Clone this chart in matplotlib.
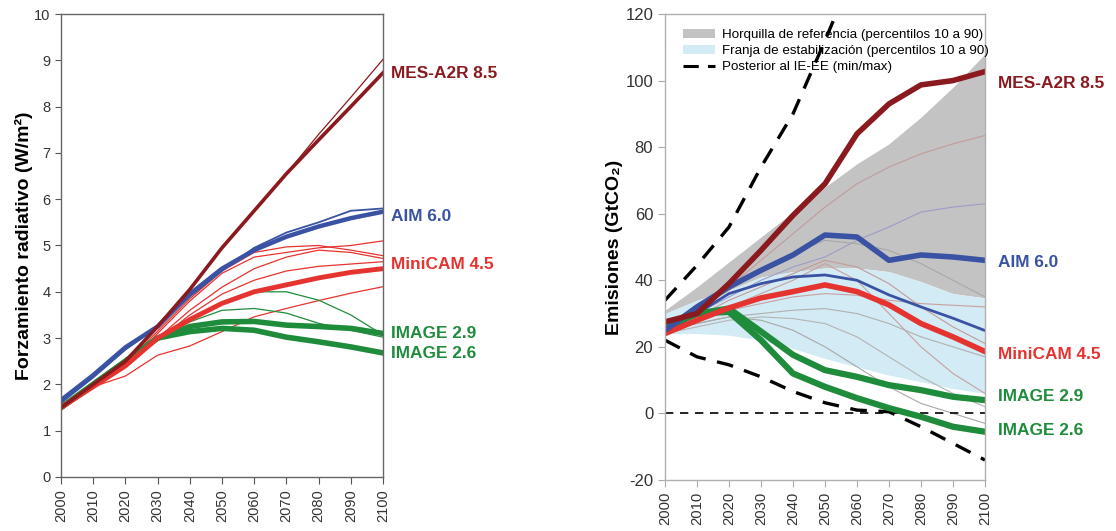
import matplotlib
matplotlib.use("Agg")
from matplotlib import pyplot as plt
from matplotlib.patches import Patch
from matplotlib.lines import Line2D

plt.rcParams['font.family'] = ['Liberation Sans', 'DejaVu Sans']
plt.rcParams['axes.unicode_minus'] = False

years = [2000, 2010, 2020, 2030, 2040, 2050, 2060, 2070, 2080, 2090, 2100]

# --- left: radiative forcing (W/m2)
f_mes = [1.5, 2.0, 2.5, 3.25, 4.05, 4.95, 5.75, 6.55, 7.28, 8.0, 8.73]
f_mes_thin = [1.5, 2.0, 2.5, 3.25, 4.05, 4.95, 5.75, 6.55, 7.4, 8.2, 9.02]
f_aim = [1.66, 2.2, 2.8, 3.25, 3.95, 4.5, 4.9, 5.19, 5.41, 5.59, 5.73]
f_aim_thin = [1.6, 2.15, 2.75, 3.25, 3.9, 4.45, 4.95, 5.28, 5.5, 5.75, 5.8]
f_minicam = [1.5, 1.95, 2.4, 3.0, 3.4, 3.75, 4.0, 4.15, 4.3, 4.42, 4.5]
f_minicam_thin = [
    [1.5, 1.95, 2.4, 3.1, 3.8, 4.4, 4.75, 4.85, 4.95, 5.0, 5.1],
    [1.5, 1.95, 2.45, 3.15, 3.85, 4.45, 4.85, 4.97, 5.0, 4.9, 4.78],
    [1.5, 1.95, 2.4, 3.0, 3.6, 4.1, 4.5, 4.75, 4.9, 4.85, 4.72],
    [1.5, 1.95, 2.4, 2.95, 3.5, 3.95, 4.25, 4.45, 4.55, 4.6, 4.65],
    [1.5, 1.95, 2.18, 2.63, 2.83, 3.14, 3.46, 3.64, 3.81, 3.97, 4.11],
]
f_image29 = [1.5, 2.0, 2.5, 3.0, 3.25, 3.35, 3.36, 3.28, 3.25, 3.21, 3.1]
f_image26 = [1.5, 2.0, 2.5, 3.0, 3.14, 3.21, 3.17, 3.02, 2.92, 2.81, 2.68]
f_image_thin = [
    [1.5, 2.0, 2.5, 3.0, 3.4, 3.75, 4.0, 4.0, 3.82, 3.5, 3.07],
    [1.5, 2.0, 2.5, 3.0, 3.35, 3.6, 3.64, 3.54, 3.32, 3.17, 3.02],
]

# --- right: emissions (GtCO2)
ref_lo = [30, 34, 37, 41, 42.6, 43.7, 43.7, 42.6, 39.6, 36, 34.7]
ref_hi = [31, 38, 45.5, 53, 60.5, 68, 75, 81, 89, 98, 108]
stab_lo = [24, 24, 23.5, 22, 19.5, 16.5, 14, 11.5, 9.5, 7.5, 6]
stab_hi = [30, 34, 37, 41, 42.6, 43.7, 43.7, 42.6, 39.6, 36, 34.7]
post_max = [34, 44.5, 56, 74, 90, 112, 135, 160, 185, 210, 235]
post_min = [22, 17, 14.6, 11, 6.6, 3.2, 1, 0.5, -4, -9, -14]
e_mes = [27.5, 30, 39, 49, 59.5, 69, 84, 93, 98.7, 100, 102.7]
e_aim = [25, 32, 38, 43, 47.6, 53.6, 53, 46, 47.6, 47, 46]
e_aim_thin = [24, 30, 36, 39, 41, 41.6, 40, 35.6, 32, 28.6, 24.9]
e_minicam = [24, 28, 31.7, 34.7, 36.6, 38.6, 36.6, 32.6, 27, 23, 18.6]
e_image29 = [26, 30, 31.5, 24.6, 17.6, 13, 11, 8.5, 7, 5, 4]
e_image26 = [26, 30, 30.5, 22, 12, 8, 4.6, 1.6, -1, -4, -5.5]
e_thin = [
    [27, 31, 38, 46, 54, 62, 69, 74, 78, 81, 83.5],
    [26, 30, 35, 40, 44, 47, 52, 56, 60.5, 62, 63],
    [26, 31, 37, 43, 48, 52, 51, 49, 45, 40, 35],
    [25, 28, 31, 33, 35, 36, 35.5, 34, 33, 32.5, 32],
    [25, 29, 34, 38, 42, 46, 44, 39, 32, 26, 21],
    [25, 27, 29, 30, 31, 31.5, 30, 27, 23, 20, 17],
    [25, 28, 32, 36, 40, 45, 40, 30, 20, 12, 6],
    [25, 27, 29, 28, 25, 20, 14, 8, 3, 0, -3],
    [24, 26, 28, 29, 28.5, 27, 23, 17, 11, 6, 2],
]
e_thin_colors = ['#c49a9a', '#9c9cc8', '#a8a8a8', '#c8a0a0', '#c49a9a',
                 '#b0b0b0', '#c8a0a0', '#a8a8a8', '#b4b4b4']

labels = ['MES-A2R 8.5', 'AIM 6.0', 'MiniCAM 4.5', 'IMAGE 2.9', 'IMAGE 2.6']
label_y_left = [8.72, 5.62, 4.58, 3.1, 2.67]
label_y_right = [99.2, 45.2, 17.6, 5.0, -5.2]

c_mes = '#8b1a1f'
c_aim = '#3a52a3'
c_mini = '#e5332f'
c_img = '#1f8c3c'
label_colors = [c_mes, c_aim, c_mini, c_img, c_img]

fig = plt.figure(figsize=(11.16, 5.31), dpi=100)

# ---------------- left panel
ax1 = fig.add_axes([61/1116, 1-477/531, 322/1116, 463/531])
for v in f_minicam_thin:
    ax1.plot(years, v, color=c_mini, lw=0.9)
for v in f_image_thin:
    ax1.plot(years, v, color=c_img, lw=0.9)
ax1.plot(years, f_image26, color=c_img, lw=4)
ax1.plot(years, f_image29, color=c_img, lw=4)
ax1.plot(years, f_minicam, color=c_mini, lw=3.5)
ax1.plot(years, f_aim_thin, color=c_aim, lw=1.3)
ax1.plot(years, f_aim, color=c_aim, lw=3.2)
ax1.plot(years, f_mes_thin, color=c_mes, lw=0.9)
ax1.plot(years, f_mes, color=c_mes, lw=2.6)

ax1.set_xlim(2000, 2100)
ax1.set_ylim(0, 10)
ax1.set_xticks(years)
ax1.set_xticklabels([str(y) for y in years], rotation=90, fontsize=10.5, color='#333333')
ax1.set_yticks(range(0, 11))
ax1.tick_params(axis='y', labelsize=10.5, labelcolor='#333333', direction='out', length=4, color='#555555')
ax1.tick_params(axis='x', direction='out', length=5, color='#555555')
for s in ax1.spines.values():
    s.set_color('#666666')
    s.set_linewidth(1.0)
ax1.set_ylabel('Forzamiento radiativo (W/m²)', fontsize=14, fontweight='bold', labelpad=1)
for t, yv, c in zip(labels, label_y_left, label_colors):
    ax1.text(2102.5, yv, t, color=c, fontsize=12.4, fontweight='bold', va='center', ha='left', clip_on=False)

# ---------------- right panel
ax2 = fig.add_axes([665/1116, 1-480/531, 320/1116, 466/531])
ax2.fill_between(years, ref_lo, ref_hi, color='#c3c3c3', lw=0)
ax2.fill_between(years, stab_lo, stab_hi, color='#d3ebf4', lw=0)
for v, c in zip(e_thin, e_thin_colors):
    ax2.plot(years, v, color=c, lw=0.8)
ax2.axhline(0, color='black', lw=1.2, ls=(0, (5, 4)))
ax2.plot(years, post_max, color='black', lw=2.4, ls=(0, (5, 3.5)))
ax2.plot(years, post_min, color='black', lw=2.4, ls=(0, (5, 3.5)))
ax2.plot(years, e_aim_thin, color=c_aim, lw=2)
ax2.plot(years, e_image26, color=c_img, lw=4.5)
ax2.plot(years, e_image29, color=c_img, lw=4.5)
ax2.plot(years, e_minicam, color=c_mini, lw=4)
ax2.plot(years, e_aim, color=c_aim, lw=4)
ax2.plot(years, e_mes, color=c_mes, lw=4)

ax2.set_xlim(2000, 2100)
ax2.set_ylim(-20, 120)
ax2.set_xticks(years)
ax2.set_xticklabels([str(y) for y in years], rotation=90, fontsize=10.7, color='#333333')
ax2.set_yticks(range(-20, 121, 20))
ax2.tick_params(axis='y', labelsize=12, labelcolor='#333333', direction='out', length=5, color='#aaaaaa')
ax2.tick_params(axis='x', direction='out', length=5, color='#aaaaaa')
for s in ax2.spines.values():
    s.set_color('#b0b0b0')
    s.set_linewidth(1.0)
ax2.set_ylabel('Emisiones (GtCO₂)', fontsize=14, fontweight='bold', labelpad=2)
for t, yv, c in zip(labels, label_y_right, label_colors):
    ax2.text(2104, yv, t, color=c, fontsize=12.4, fontweight='bold', va='center', ha='left', clip_on=False)

handles = [Patch(facecolor='#c3c3c3', edgecolor='none'),
           Patch(facecolor='#d3ebf4', edgecolor='none'),
           Line2D([], [], color='black', lw=2.2, ls=(0, (5, 3)))]
ax2.legend(handles, ['Horquilla de referencia (percentilos 10 a 90)',
                     'Franja de estabilización (percentilos 10 a 90)',
                     'Posterior al IE-EE (min/max)'],
           loc='upper left', bbox_to_anchor=(0.03, 0.985), frameon=False,
           fontsize=9.6, handlelength=2.4, handleheight=0.6, labelspacing=0.3,
           handletextpad=0.55, borderaxespad=0.2)

fig.savefig('out.png', dpi=100)
